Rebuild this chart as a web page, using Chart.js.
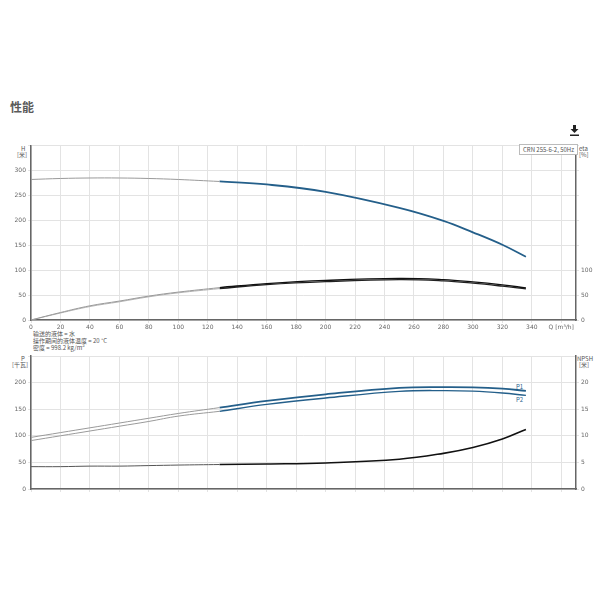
<!DOCTYPE html>
<html>
<head>
<meta charset="utf-8">
<script src="https://cdn.jsdelivr.net/npm/chart.js@4"></script>
<style>
  body { margin: 0; background: #fff; font-family: "Noto Sans CJK SC", "DejaVu Sans", sans-serif; }
  #page { position: relative; width: 600px; height: 600px; overflow: hidden; }
  .t { position: absolute; font-size: 6px; color: #555; line-height: 7px; white-space: nowrap; }
  canvas { position: absolute; left: 0; }
</style>
</head>
<body>
<div id="page">
  <div class="t" style="left:10px;top:100px;font-size:12px;line-height:14px;font-weight:bold;color:#5a5a5a">性能</div>
  <svg style="position:absolute;left:569px;top:125px" width="11" height="11" viewBox="0 0 11 11">
    <path d="M4 0h3v4h2.5L5.5 8 1.5 4H4z" fill="#222"/><rect x="1" y="9.5" width="9" height="1.5" fill="#222"/>
  </svg>

  <div class="t" style="left:21px;top:145px">H</div>
  <div class="t" style="left:17px;top:151px">[米]</div>
  <div class="t" style="left:579px;top:145px">eta</div>
  <div class="t" style="left:579px;top:151px">[%]</div>
  <div class="t" style="left:519px;top:144px;border:1px solid #bbb;padding:1px 3px;background:#fff;z-index:2">CRN 255-6-2, 50Hz</div>

  <div class="t" style="left:33px;top:330px">输送的液体 = 水</div>
  <div class="t" style="left:33px;top:337px">操作期间的液体温度 = 20 °C</div>
  <div class="t" style="left:33px;top:344px">密度 = 998.2 kg/m³</div>

  <div class="t" style="left:21px;top:355px">P</div>
  <div class="t" style="left:12px;top:361px">[千瓦]</div>
  <div class="t" style="left:577px;top:355px">NPSH</div>
  <div class="t" style="left:579px;top:361px">[米]</div>
  <div class="t" style="left:516px;top:383px;color:#2a6590">P1</div>
  <div class="t" style="left:516px;top:396px;color:#2a6590">P2</div>

  <canvas id="top" width="600" height="195" style="top:140px"></canvas>
  <canvas id="bottom" width="600" height="160" style="top:340px"></canvas>
</div>
<script>
// flow points: extrapolated (grey) part and the operating (coloured) part
const qGray = [0, 20, 40, 60, 80, 100, 128];
const qMain = [128, 160, 200, 250, 280, 300, 320, 336];

// head H [m]
const hGray = [282, 284, 285, 285, 284, 282, 278];
const hMain = [278, 272, 257, 225, 199, 176, 151, 127];

// efficiency eta [%], drawn as a pair of lines
const etaGray = [0, 15, 28.5, 38, 48, 56, 65];
const etaMainA = [65, 73, 79.5, 83.5, 81, 76.5, 70.5, 64.5];
const etaGrayB = [0, 14, 27, 36.5, 46.5, 54.5, 63];
const etaMainB = [63, 71, 77, 81, 78.5, 74, 68, 62.5];

// power P1 / P2 [kW]
const p1Gray = [97, 106, 115, 124, 133, 142, 153];
const p1Main = [153, 165.5, 178, 190, 191.5, 191, 188.5, 184.5];
const p2Gray = [91, 100, 109, 118, 127, 137, 146];
const p2Main = [146, 159, 171, 183.5, 185, 184, 180.5, 176];

// NPSH [m]
const npshGray = [4.2, 4.2, 4.3, 4.3, 4.4, 4.5, 4.6];
const npshMain = [4.6, 4.7, 4.9, 5.6, 6.7, 7.8, 9.4, 11.2];

const BLUE = '#245f8a';
const tickFont = { size: 6, family: 'DejaVu Sans' };

function pts(qs, ys) {
  return qs.map((q, i) => ({ x: q, y: ys[i] }));
}

function line(qs, ys, color, width, axis) {
  return {
    data: pts(qs, ys),
    borderColor: color,
    borderWidth: width,
    pointRadius: 0,
    tension: 0.4,
    fill: false,
    yAxisID: axis || 'y',
  };
}

function xScale(showLabels, h) {
  return {
    type: 'linear',
    min: 0,
    max: 370,
    ticks: {
      display: showLabels,
      stepSize: 20,
      includeBounds: false,
      autoSkip: false,
      maxRotation: 0,
      padding: 1,
      font: tickFont,
      color: '#666',
      callback: v => (v === 360 ? 'Q [m³/h]' : v),
    },
    grid: { color: '#e3e3e3', tickLength: 3 },
    border: { color: '#666', width: 1.5 },
    afterFit: s => { s.height = h; },
  };
}

function yScale(max, step, lastLabel, pos, w, grid) {
  return {
    position: pos,
    min: 0,
    max: max,
    ticks: {
      stepSize: step,
      padding: 2,
      font: tickFont,
      color: '#666',
      callback: v => (v <= lastLabel ? v : ''),
    },
    grid: { color: '#e3e3e3', tickLength: 3, drawOnChartArea: grid },
    border: { color: '#666', width: 1.5 },
    afterFit: s => { s.width = w; },
  };
}

const baseOpts = {
  animation: false,
  responsive: false,
  plugins: { legend: { display: false }, tooltip: { enabled: false } },
};

new Chart(document.getElementById('top'), {
  type: 'line',
  data: {
    datasets: [
      line(qGray, hGray, '#9a9a9a', 1),
      line(qGray, etaGray, '#9a9a9a', 1),
      line(qGray, etaGrayB, '#b5b5b5', 1),
      line(qMain, hMain, BLUE, 1.8),
      line(qMain, etaMainA, '#111', 1.4),
      line(qMain, etaMainB, '#222', 1.4),
    ],
  },
  options: {
    ...baseOpts,
    layout: { padding: { top: 4, left: 0, right: 0, bottom: 0 } },
    scales: {
      x: xScale(true, 15),
      y: yScale(350, 50, 300, 'left', 31, true),
      y1: yScale(350, 50, 100, 'right', 24, false),
    },
  },
});

new Chart(document.getElementById('bottom'), {
  type: 'line',
  data: {
    datasets: [
      line(qGray, p1Gray, '#9a9a9a', 1),
      line(qGray, p2Gray, '#9a9a9a', 1),
      line(qGray, npshGray, '#555', 1, 'y1'),
      line(qMain, p1Main, BLUE, 1.8),
      line(qMain, p2Main, BLUE, 1.4),
      line(qMain, npshMain, '#111', 1.6, 'y1'),
    ],
  },
  options: {
    ...baseOpts,
    layout: { padding: { top: 16, left: 0, right: 0, bottom: 0 } },
    scales: {
      x: xScale(false, 11),
      y: yScale(250, 50, 200, 'left', 31, true),
      y1: yScale(25, 5, 20, 'right', 24, false),
    },
  },
});
</script>
</body>
</html>
